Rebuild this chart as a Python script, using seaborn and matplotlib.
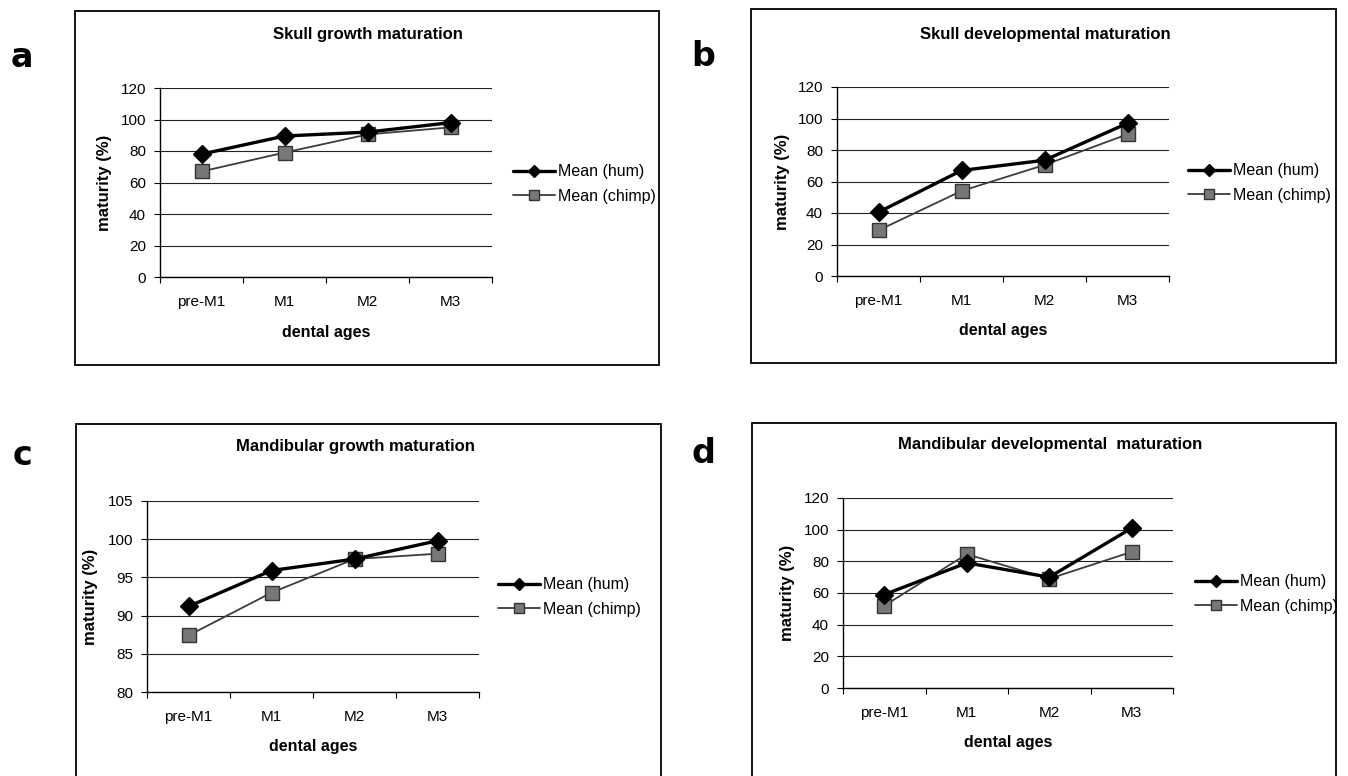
import pandas as pd
import seaborn as sns
import matplotlib.pyplot as plt
from matplotlib.patches import Rectangle

# values
dental_ages = ["pre-M1", "M1", "M2", "M3"]
series_names = ["Mean (hum)", "Mean (chimp)"]

skull_growth_hum = [78, 89.5, 92, 98]
skull_growth_chimp = [67, 79, 90.5, 95]
skull_dev_hum = [40.5, 67, 73.5, 97]
skull_dev_chimp = [29, 54, 70.5, 90]
mand_growth_hum = [91.2, 95.9, 97.4, 99.8]
mand_growth_chimp = [87.4, 93.0, 97.4, 98.1]
mand_dev_hum = [59, 79, 70, 101]
mand_dev_chimp = [52, 84.5, 69, 86]

yticks_pct = [0, 20, 40, 60, 80, 100, 120]
yticks_mand_growth = [80, 85, 90, 95, 100, 105]

W, H = 1348, 776


def fx(px):
    return px / W


def fy(py):
    return 1 - py / H


def make_frame(hum, chimp):
    return pd.DataFrame({
        "dental ages": dental_ages * 2,
        "maturity (%)": list(hum) + list(chimp),
        "series": [series_names[0]] * 4 + [series_names[1]] * 4,
    })


def draw_panel(fig, spec):
    l, t, r, b = spec["axes"]
    ax = fig.add_axes([fx(l), fy(b), (r - l) / W, (b - t) / H])
    df = make_frame(spec["hum"], spec["chimp"])

    hum = df[df["series"] == series_names[0]]
    chimp = df[df["series"] == series_names[1]]
    sns.lineplot(data=hum, x="dental ages", y="maturity (%)", ax=ax, sort=False,
                 color="black", linewidth=2.4, marker="D", markersize=9,
                 markerfacecolor="black", markeredgecolor="black",
                 markeredgewidth=1, label=series_names[0], zorder=4)
    sns.lineplot(data=chimp, x="dental ages", y="maturity (%)", ax=ax, sort=False,
                 color="#3c3c3c", linewidth=1.3, marker="s", markersize=10,
                 markerfacecolor="#777777", markeredgecolor="#333333",
                 markeredgewidth=1, label=series_names[1], zorder=3)

    yt = spec["yticks"]
    ax.set_ylim(yt[0], yt[-1])
    ax.set_yticks(yt)
    ax.set_xlim(-0.5, 3.5)
    ax.set_xticks(range(4))
    ax.set_xticklabels(dental_ages)
    ax.set_xticks([-0.5, 0.5, 1.5, 2.5, 3.5], minor=True)

    ax.tick_params(axis="y", length=4, width=0.8, pad=6, labelsize=11, left=True)
    ax.tick_params(axis="x", which="major", length=0, pad=13, labelsize=11)
    ax.tick_params(axis="x", which="minor", length=4, width=0.8, bottom=True)

    ax.yaxis.grid(True, color="#222222", linewidth=0.8)
    ax.set_axisbelow(True)
    sns.despine(ax=ax)
    for side in ["left", "bottom"]:
        ax.spines[side].set_color("black")
        ax.spines[side].set_linewidth(1)

    ax.set_ylabel("maturity (%)", fontsize=12, fontweight="bold")
    ax.set_xlabel("dental ages", fontsize=11.5, fontweight="bold")
    ax.yaxis.set_label_coords(spec["ylab"], 0.5)
    ax.xaxis.set_label_coords(0.5, spec["xlab"])

    lx, ly = spec["legend"]
    ax.legend(loc="center left", bbox_to_anchor=(fx(lx), fy(ly)),
              bbox_transform=fig.transFigure, frameon=False, borderpad=0,
              borderaxespad=0, handlelength=2.6, handletextpad=0.2,
              labelspacing=0.6, markerscale=0.65, fontsize=11.5)

    # outer chart frame
    x0, y0, x1, y1 = spec["box"]
    fig.add_artist(Rectangle((fx(x0), fy(y1)), (x1 - x0) / W, (y1 - y0) / H,
                             transform=fig.transFigure, fill=False,
                             edgecolor="black", linewidth=1.3))

    tx, ty = spec["title_pos"]
    fig.text(fx(tx), fy(ty), spec["title"], ha="center", va="center",
             fontsize=12, fontweight="bold")

    px, py = spec["letter_pos"]
    fig.text(fx(px), fy(py), spec["letter"], ha="center", va="baseline",
             fontsize=24, fontweight="bold", family="DejaVu Sans")


def main():
    sns.set_theme(style="ticks")
    plt.rcParams["font.family"] = ["Liberation Sans", "DejaVu Sans"]
    for key in ["text.color", "axes.labelcolor", "xtick.color", "ytick.color"]:
        plt.rcParams[key] = "black"

    fig = plt.figure(figsize=(W / 100, H / 100), dpi=100)

    panels = [
        dict(letter="a", title="Skull growth maturation",
             hum=skull_growth_hum, chimp=skull_growth_chimp, yticks=yticks_pct,
             axes=(160, 88, 492, 277), box=(75, 11, 659, 365),
             title_pos=(368, 34), letter_pos=(22, 67), legend=(513, 184),
             ylab=-0.145, xlab=-0.254),
        dict(letter="b", title="Skull developmental maturation",
             hum=skull_dev_hum, chimp=skull_dev_chimp, yticks=yticks_pct,
             axes=(837, 87, 1169, 276), box=(751, 9, 1336, 363),
             title_pos=(1045, 35), letter_pos=(703, 66), legend=(1188, 183),
             ylab=-0.142, xlab=-0.249),
        dict(letter="c", title="Mandibular growth maturation",
             hum=mand_growth_hum, chimp=mand_growth_chimp, yticks=yticks_mand_growth,
             axes=(147, 501, 479, 692), box=(76, 424, 661, 800),
             title_pos=(355, 447), letter_pos=(22, 465), legend=(498, 597),
             ylab=-0.148, xlab=-0.246),
        dict(letter="d", title="Mandibular developmental  maturation",
             hum=mand_dev_hum, chimp=mand_dev_chimp, yticks=yticks_pct,
             axes=(843, 498, 1173, 688), box=(752, 423, 1336, 800),
             title_pos=(1050, 445), letter_pos=(703, 463), legend=(1195, 594),
             ylab=-0.145, xlab=-0.247),
    ]
    for spec in panels:
        draw_panel(fig, spec)

    fig.savefig("out.png", dpi=100)


if __name__ == "__main__":
    main()
